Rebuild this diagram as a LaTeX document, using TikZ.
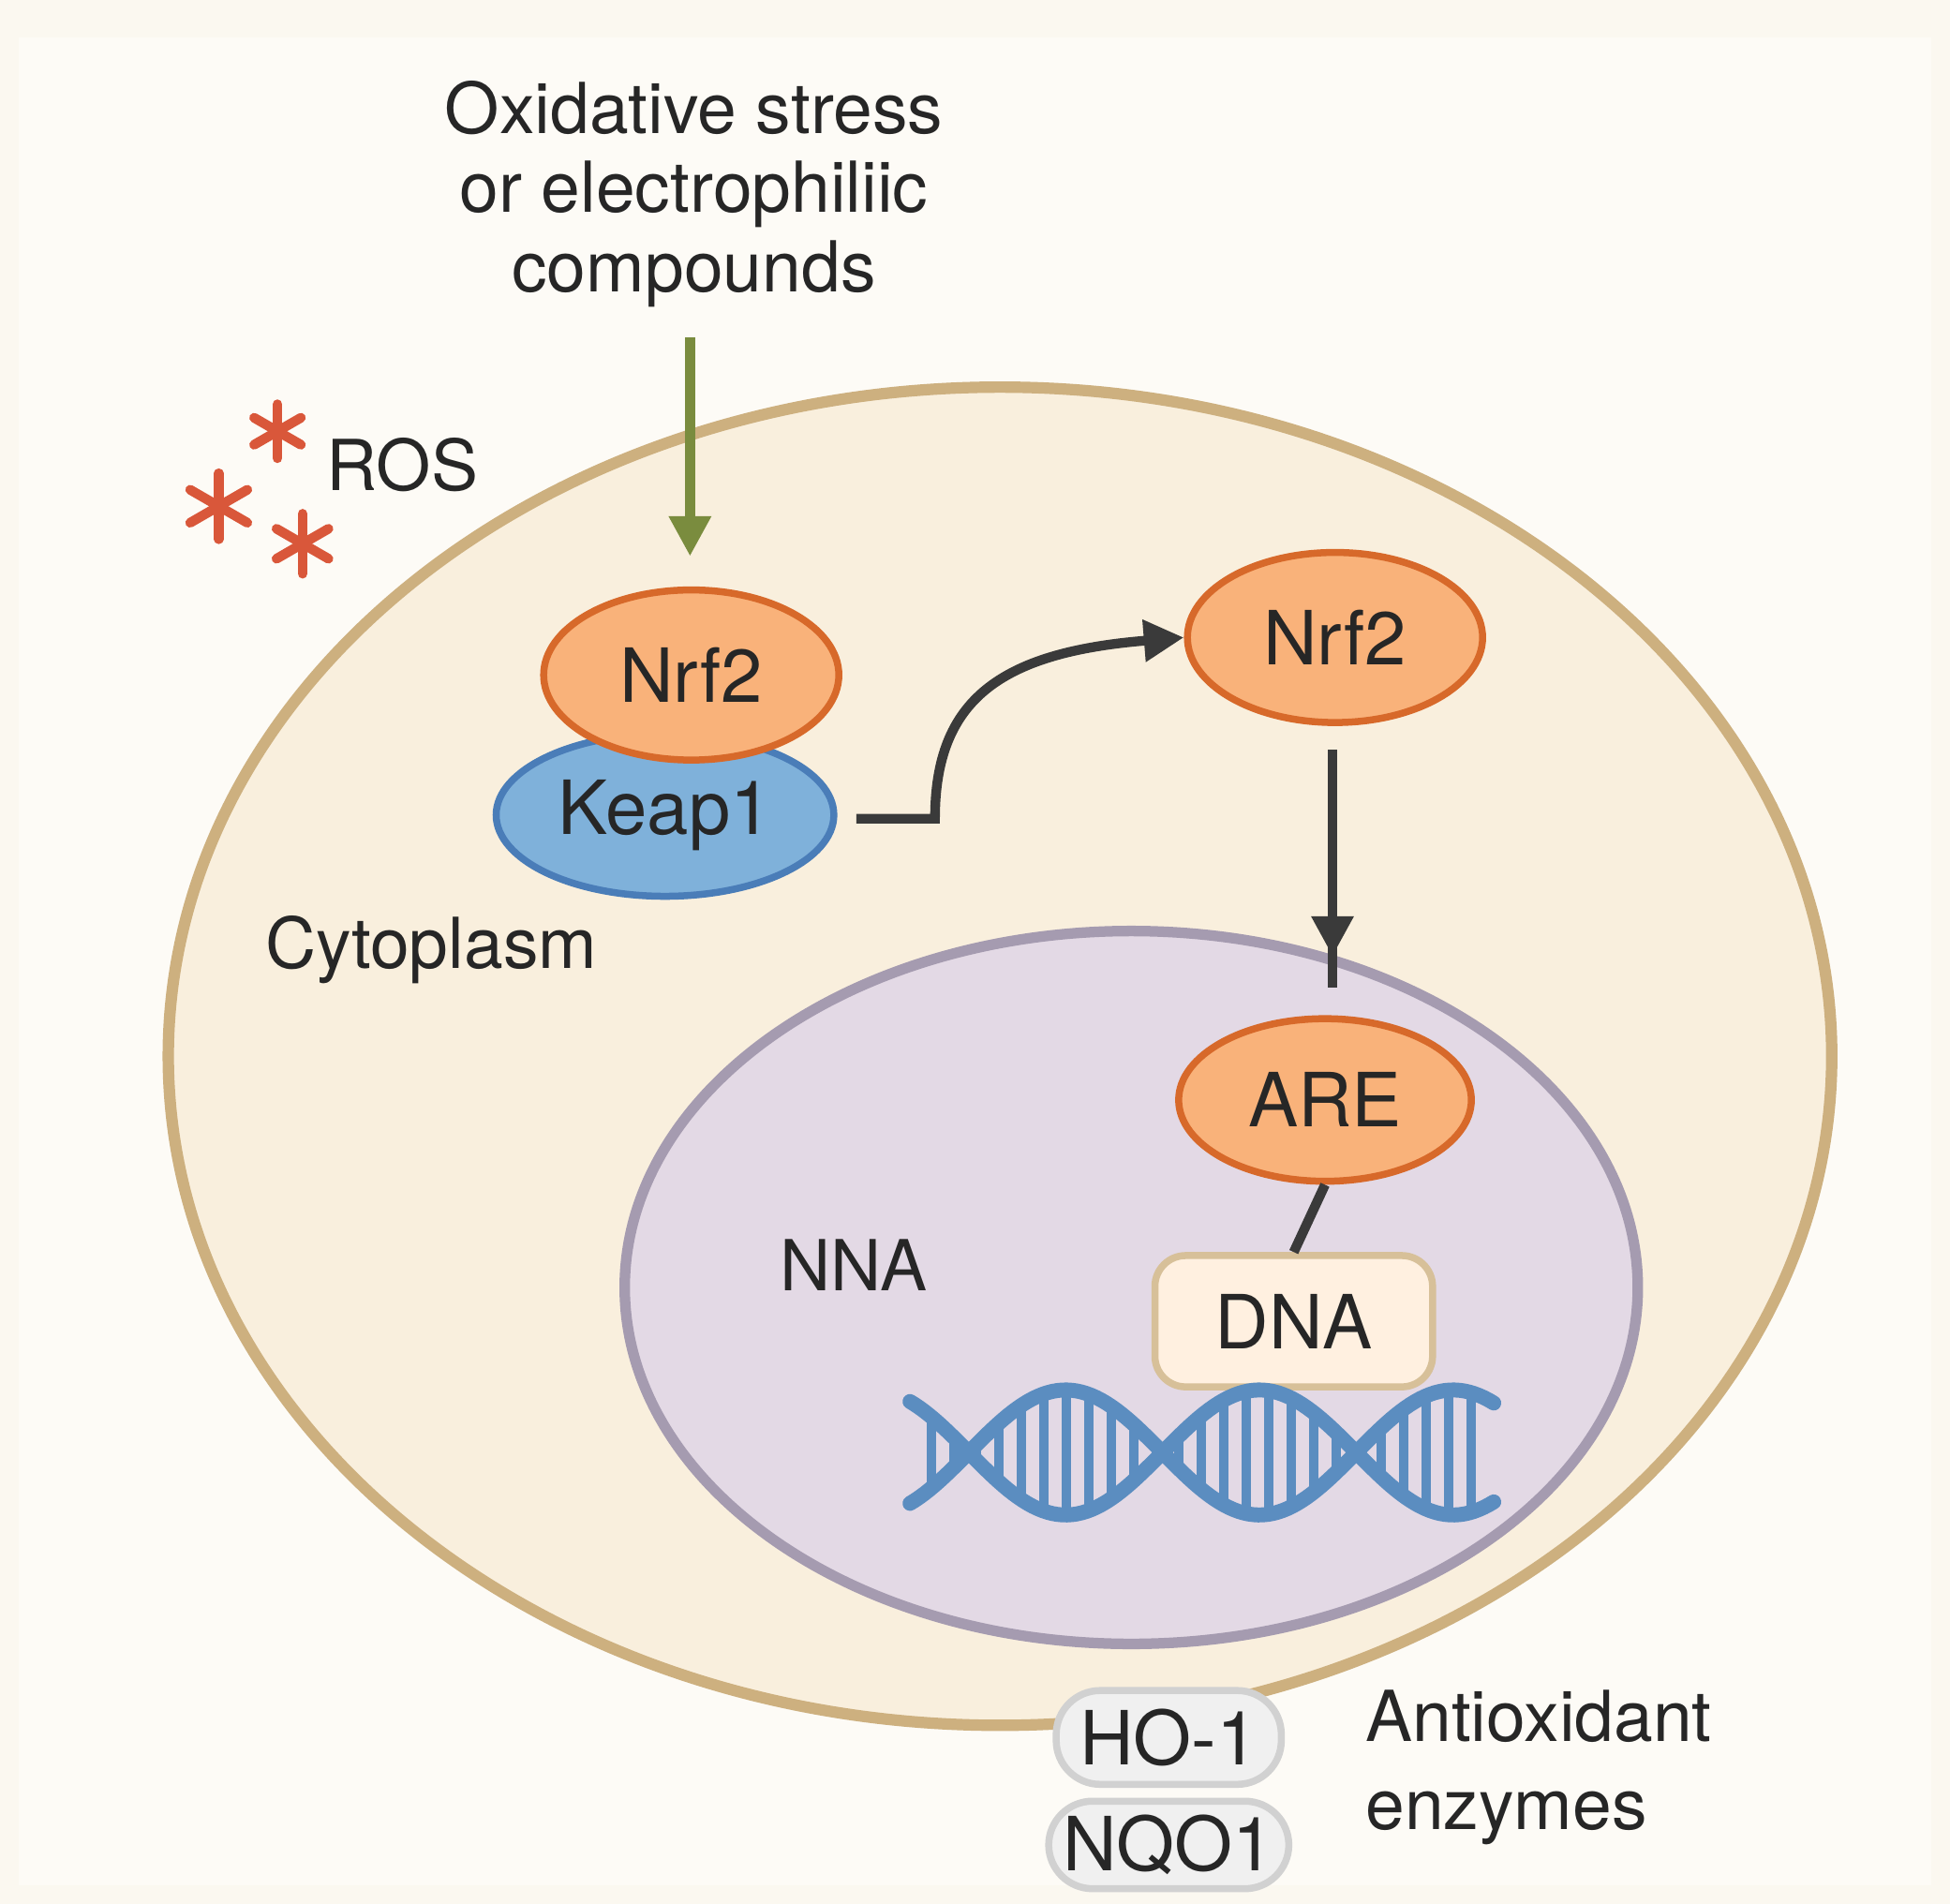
\documentclass[tikz,border=0pt]{standalone}
\usepackage{fontspec}
\setmainfont{TeX Gyre Heros}
\usetikzlibrary{arrows.meta,shapes.geometric}
\definecolor{bg}{HTML}{FBF8F0}
\definecolor{cellf}{HTML}{F9EFDD}
\definecolor{cells}{HTML}{CDB07F}
\definecolor{nucf}{HTML}{E3D9E5}
\definecolor{nucs}{HTML}{A59BB0}
\definecolor{orf}{HTML}{F9B27A}
\definecolor{ors}{HTML}{D7692A}
\definecolor{blf}{HTML}{7FB1DA}
\definecolor{bls}{HTML}{4A7DB8}
\definecolor{grn}{HTML}{7A8C3E}
\definecolor{ros}{HTML}{D9573A}
\definecolor{dk}{HTML}{3A3A3A}
\definecolor{dna}{HTML}{5B8DC0}
\begin{document}
\begin{tikzpicture}[x=0.01cm,y=-0.01cm,
  txt/.style={font=\fontsize{16}{20}\selectfont,text=black!85},
  prot/.style={ellipse,draw=ors,fill=orf,line width=1.6pt,minimum width=2.36cm,minimum height=1.36cm,inner sep=0pt,font=\fontsize{17}{20}\selectfont,text=black!85},
  box/.style={rounded corners=7pt,line width=1.6pt,inner sep=0pt,font=\fontsize{17}{20}\selectfont,text=black!85},
  con/.style={draw=dk,line width=2.2pt},
  tip/.style={-{Triangle[length=0.32cm,width=0.32cm]}}]
\fill[bg] (0,0) rectangle (1560,1523);
\fill[white!40!bg] (15,30) rectangle (1545,1508);
\node[ellipse,draw=cells,fill=cellf,line width=2.6pt,minimum width=13.3cm,minimum height=10.7cm,inner sep=0pt] (cell) at (800,845) {};
\node[ellipse,draw=nucs,fill=nucf,line width=2.4pt,minimum width=8.1cm,minimum height=5.7cm,inner sep=0pt] (nuc) at (905,1030) {};
\node[txt,align=center] (title) at (555,155) {Oxidative stress\\[-2pt]or electrophiliic\\[-2pt]compounds};
\coordinate (gs) at (552,270);
\coordinate (ge) at (552,445);
\draw[grn,line width=2.2pt,tip] (gs) -- (ge);
\foreach \px/\py/\s in {222/345/0.9,175/405/1.1,242/435/1}{
  \begin{scope}[shift={(\px,\py)},scale=\s]
  \foreach \a in {90,150,210,270,330,30} \draw[ros,line width=2.2pt,line cap=round] (0,0) -- (\a:24);
  \end{scope}}
\node[txt] (ros) at (322,372) {ROS};
\node[ellipse,draw=bls,fill=blf,line width=1.6pt,minimum width=2.7cm,minimum height=1.3cm,inner sep=0pt,font=\fontsize{17}{20}\selectfont,text=black!85] (keap) at (532,652) {Keap1};
\node[prot] (nrfa) at (553,540) {Nrf2};
\node[prot] (nrfb) at (1068,510) {Nrf2};
\node[prot,minimum height=1.3cm,minimum width=2.34cm] (are) at (1060,880) {ARE};
\coordinate (k1) at (685,655);
\draw[con,tip] (k1) -- (748,655) .. controls (748,560) and (800,522) .. (nrfb.west);
\coordinate (d1) at (1066,600);
\coordinate (d2) at (1066,790);
\draw[con] (d1) -- (d2);
\draw[con,tip] (d1) -- (1066,765);
\node[txt] (cyto) at (345,760) {Cytoplasm};
\node[txt] (nna) at (683,1012) {NNA};
\node[box,draw=cells!80,fill=orange!12,minimum width=2.22cm,minimum height=1.05cm] (dnab) at (1035,1057) {DNA};
\draw[con] (are.south) -- (dnab.north);
\foreach \x in {745,763,...,1185}{
  \draw[dna,line width=2pt] (\x,{1162+48*sin((\x-775)/155*180)}) -- (\x,{1162-48*sin((\x-775)/155*180)});}
\draw[dna,line width=3.4pt,line cap=round,domain=728:1195,samples=120] plot (\x,{1162+50*sin((\x-775)/155*180)});
\draw[dna,line width=3.4pt,line cap=round,domain=728:1195,samples=120] plot (\x,{1162-50*sin((\x-775)/155*180)});
\node[box,draw=black!18,fill=black!6,minimum width=1.8cm,minimum height=0.75cm,rounded corners=10pt] (ho) at (935,1390) {HO-1};
\node[box,draw=black!18,fill=black!6,minimum width=1.92cm,minimum height=0.7cm,rounded corners=10pt] (nqo) at (935,1476) {NQO1};
\node[txt,align=left,anchor=west] (anti) at (1080,1414) {Antioxidant\\enzymes};
\end{tikzpicture}
\end{document}
